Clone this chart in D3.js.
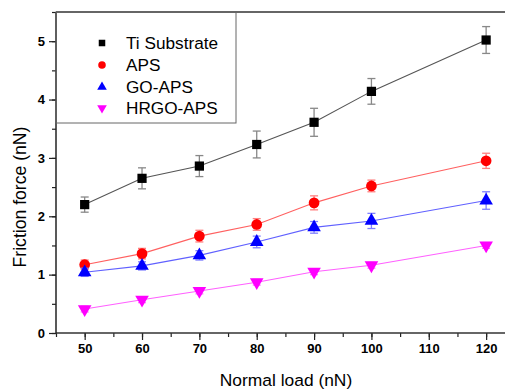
<!DOCTYPE html>
<html><head><meta charset="utf-8">
<script src="https://cdn.jsdelivr.net/npm/d3@7"></script>
<style>body{margin:0;background:#fff}svg{display:block;font-family:"Liberation Sans",Arial,sans-serif}</style>
</head><body>
<svg id="c" width="505" height="390"></svg>
<script>
const loads = [50, 60, 70, 80, 90, 100, 120];
const tiVals = [2.20, 2.65, 2.86, 3.23, 3.61, 4.14, 5.02];
const tiErr  = [0.13, 0.18, 0.18, 0.23, 0.24, 0.22, 0.23];
const apsVals = [1.17, 1.36, 1.66, 1.86, 2.23, 2.52, 2.95];
const apsErr  = [0.08, 0.09, 0.10, 0.10, 0.12, 0.10, 0.13];
const goVals = [1.04, 1.15, 1.33, 1.56, 1.81, 1.92, 2.27];
const goErr  = [0.07, 0.07, 0.08, 0.10, 0.10, 0.13, 0.15];
const hrVals = [0.41, 0.57, 0.72, 0.87, 1.05, 1.16, 1.50];
const hrErr  = [0.05, 0.05, 0.05, 0.05, 0.05, 0.05, 0.05];
const seriesNames = ["Ti Substrate", "APS", "GO-APS", "HRGO-APS"];
const xTicks = [50, 60, 70, 80, 90, 100, 110, 120];
const yTicks = [0, 1, 2, 3, 4, 5];

const series = [
  {name: seriesNames[0], vals: tiVals, err: tiErr, sym: d3.symbolSquare, size: 85, fill: "#000", line: "#555", ebar: "#888", rot: 0},
  {name: seriesNames[1], vals: apsVals, err: apsErr, sym: d3.symbolCircle, size: 90, fill: "#ff0000", line: "#ff6060", ebar: "#ff8080", rot: 0},
  {name: seriesNames[2], vals: goVals, err: goErr, sym: d3.symbolTriangle, size: 80, fill: "#0000ff", line: "#6060ff", ebar: "#8080ff", rot: 0},
  {name: seriesNames[3], vals: hrVals, err: hrErr, sym: d3.symbolTriangle, size: 80, fill: "#ff00ff", line: "#ff60ff", ebar: "#ff80ff", rot: 180}
];

const svg = d3.select("#c");
const L = 56, T = 12, B = 333;
const x = d3.scaleLinear().domain([45, 125]).range([L, L + 80 * 5.735]);
const y = d3.scaleLinear().domain([0, 5.5]).range([B, T]);

// minor ticks
svg.append("g").attr("transform", `translate(0,${B})`)
  .call(d3.axisBottom(x).tickValues(d3.range(45, 126, 5)).tickSize(4).tickFormat(""));
svg.append("g").attr("transform", `translate(${L},0)`)
  .call(d3.axisLeft(y).tickValues(d3.range(0, 5.51, 0.5)).tickSize(4).tickFormat(""));
// major ticks
svg.append("g").attr("transform", `translate(0,${B})`)
  .call(d3.axisBottom(x).tickValues(xTicks).tickSize(7).tickPadding(4).tickFormat(d3.format("d")))
  .call(g => g.selectAll("text").attr("font-size", 13).attr("font-weight", "bold").attr("fill", "#000").attr("font-family", "Liberation Sans, Arial, sans-serif"));
svg.append("g").attr("transform", `translate(${L},0)`)
  .call(d3.axisLeft(y).tickValues(yTicks).tickSize(7).tickPadding(4).tickFormat(d3.format("d")))
  .call(g => g.selectAll("text").attr("font-size", 13).attr("font-weight", "bold").attr("fill", "#000").attr("font-family", "Liberation Sans, Arial, sans-serif"));
svg.selectAll(".tick line").attr("stroke", "#222").attr("stroke-width", 1.2);
svg.selectAll(".domain").remove();
// frame lines
svg.append("line").attr("x1", L).attr("x2", 505).attr("y1", B).attr("y2", B).attr("stroke", "#333").attr("stroke-width", 1.5);
svg.append("line").attr("x1", L).attr("x2", L).attr("y1", T).attr("y2", B).attr("stroke", "#222").attr("stroke-width", 1.5);
svg.append("line").attr("x1", L).attr("x2", 505).attr("y1", T).attr("y2", T).attr("stroke", "#333").attr("stroke-width", 1.5);

// legend box
svg.append("rect").attr("x", L).attr("y", T).attr("width", 236 - L).attr("height", 123 - T)
  .attr("fill", "none").attr("stroke", "#666").attr("stroke-width", 1);

// lines, error bars, markers
series.forEach(s => {
  const pts = loads.map((l, i) => ({x: l, v: s.vals[i], e: s.err[i]}));
  svg.append("path").datum(pts)
    .attr("d", d3.line().x(d => x(d.x)).y(d => y(d.v)))
    .attr("fill", "none").attr("stroke", s.line).attr("stroke-width", 1.1);
  const eb = svg.append("g").attr("stroke", s.ebar).attr("stroke-width", 1.3);
  pts.forEach(d => {
    eb.append("line").attr("x1", x(d.x)).attr("x2", x(d.x)).attr("y1", y(d.v - d.e)).attr("y2", y(d.v + d.e));
    eb.append("line").attr("x1", x(d.x) - 4).attr("x2", x(d.x) + 4).attr("y1", y(d.v - d.e)).attr("y2", y(d.v - d.e));
    eb.append("line").attr("x1", x(d.x) - 4).attr("x2", x(d.x) + 4).attr("y1", y(d.v + d.e)).attr("y2", y(d.v + d.e));
  });
  svg.append("g").selectAll("path").data(pts).join("path")
    .attr("d", d3.symbol().type(s.sym).size(s.size))
    .attr("transform", d => `translate(${x(d.x)},${y(d.v)}) rotate(${s.rot})`)
    .attr("fill", s.fill);
});

// legend entries
const ly = [43, 65, 87, 108];
series.forEach((s, i) => {
  svg.append("path").attr("d", d3.symbol().type(s.sym).size(s.size * 0.5))
    .attr("transform", `translate(102,${ly[i]}) rotate(${s.rot})`).attr("fill", s.fill);
  svg.append("text").attr("x", 126).attr("y", ly[i]).attr("dy", "0.36em")
    .attr("font-size", 17.2).attr("fill", "#000").text(s.name);
});

// axis titles
svg.append("text").attr("x", 286).attr("y", 386).attr("text-anchor", "middle")
  .attr("font-size", 17.4).attr("fill", "#000").text("Normal load (nN)");
svg.append("text").attr("transform", "translate(26,197) rotate(-90)").attr("text-anchor", "middle")
  .attr("font-size", 17.6).attr("fill", "#000").text("Friction force (nN)");
</script>
</body></html>
